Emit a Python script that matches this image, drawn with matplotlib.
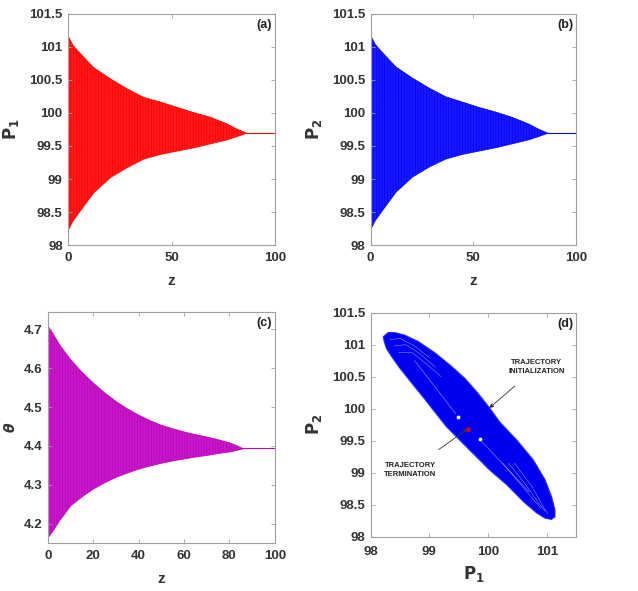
import numpy as np
import matplotlib
matplotlib.use("Agg")
from matplotlib import pyplot as plt

plt.rcParams["font.family"] = ["Liberation Sans", "DejaVu Sans"]
plt.rcParams["font.weight"] = "bold"
plt.rcParams["hatch.linewidth"] = 0.5

# envelope samples
z_env = [0, 2, 5.7, 12.1, 20.2, 28.3, 36.3, 44.4, 52.4, 60.5, 68.6, 76.6, 81.5, 86]
p1_upper = [101.15, 101.03, 100.90, 100.69, 100.52, 100.37, 100.24, 100.17, 100.09,
            100.01, 99.94, 99.84, 99.76, 99.70]
p1_lower = [98.25, 98.37, 98.53, 98.80, 99.03, 99.18, 99.31, 99.38, 99.43, 99.48,
            99.54, 99.60, 99.65, 99.70]
p2_upper = [101.16, 101.04, 100.91, 100.70, 100.53, 100.38, 100.25, 100.17, 100.09,
            100.02, 99.94, 99.84, 99.76, 99.70]
p2_lower = [98.26, 98.38, 98.54, 98.81, 99.04, 99.19, 99.31, 99.38, 99.43, 99.48,
            99.54, 99.60, 99.65, 99.70]

zc_env = [0, 2.5, 5, 10, 15, 20, 25, 30, 35, 40, 45, 50, 55, 60, 65, 70, 75, 80, 83, 86]
th_upper = [4.709, 4.686, 4.661, 4.622, 4.590, 4.562, 4.537, 4.515, 4.496, 4.480,
            4.466, 4.454, 4.445, 4.437, 4.430, 4.424, 4.417, 4.409, 4.402, 4.394]
th_lower = [4.166, 4.186, 4.209, 4.248, 4.271, 4.291, 4.307, 4.321, 4.332, 4.342,
            4.350, 4.357, 4.363, 4.368, 4.373, 4.377, 4.382, 4.386, 4.390, 4.394]
z_tail = [86, 100]
p_final = 99.70
th_final = 4.394

# phase portrait outline (P1, P2), read clockwise from the upper-left tip
outer_p1 = [98.215, 98.30, 98.41, 98.58, 98.81, 99.10, 99.38, 99.61, 99.82, 100.02,
            100.20, 100.49, 100.77, 100.97, 101.08, 101.14, 101.14, 101.08, 100.97,
            100.83, 100.60, 100.32, 100.03, 99.69, 99.29, 99.04, 98.93, 98.70, 98.50,
            98.36, 98.27, 98.23, 98.215]
outer_p2 = [101.125, 101.19, 101.19, 101.15, 101.05, 100.87, 100.66, 100.47, 100.25,
            100.02, 99.79, 99.51, 99.20, 98.89, 98.63, 98.42, 98.31, 98.27, 98.29,
            98.37, 98.55, 98.81, 99.04, 99.35, 99.72, 100.01, 100.14, 100.40, 100.63,
            100.81, 100.94, 101.05, 101.125]
# light streaks near the two tips
streaks_p1 = [
    [98.33, 98.5, 98.75, 99.0],
    [98.40, 98.6, 98.85, 99.1],
    [98.48, 98.7, 98.95, 99.2],
    [100.45, 100.75, 100.95, 101.02],
    [100.35, 100.65, 100.88, 100.97],
    [100.25, 100.55, 100.80, 100.90],
]
streaks_p2 = [
    [101.08, 101.10, 100.98, 100.80],
    [100.98, 101.00, 100.85, 100.65],
    [100.88, 100.88, 100.70, 100.50],
    [99.15, 98.78, 98.45, 98.36],
    [99.15, 98.80, 98.50, 98.40],
    [99.15, 98.82, 98.55, 98.45],
]
white_dots_p1 = [99.49, 99.86]
white_dots_p2 = [99.87, 99.53]
end_point = (99.66, 99.69)
init_point = (100.02, 100.01)

GRAY = "#a0a0a0"
TXT = "#333333"


def style(ax, xpad=5):
    for s in ax.spines.values():
        s.set_color(GRAY)
        s.set_linewidth(0.8)
    ax.tick_params(direction="in", top=True, right=True, color=GRAY,
                   labelsize=9.5, length=3, width=0.6)
    ax.tick_params(axis="x", pad=xpad)
    ax.tick_params(axis="y", pad=4)
    for lab in ax.get_xticklabels() + ax.get_yticklabels():
        lab.set_fontweight("bold")
        lab.set_color(TXT)


def decay_panel(ax, z, upper, lower, final, color, tag):
    ax.fill_between(z, lower, upper, color=color, linewidth=0.6, alpha=0.9)
    ax.fill_between(z, lower, upper, facecolor="none", linewidth=0, hatch="||||||",
                    edgecolor=color)
    ax.plot(z_tail, [final, final], color=color, linewidth=0.8)
    ax.set_xlim(0, 100)
    ax.set_xlabel("z", fontsize=11, fontweight="bold", color=TXT, labelpad=7)
    ax.text(0.985, 0.975, tag, transform=ax.transAxes, ha="right", va="top",
            fontsize=9, fontweight="bold", color="#222222")


P_TICKS = [98, 98.5, 99, 99.5, 100, 100.5, 101, 101.5]
P_LABELS = ["98", "98.5", "99", "99.5", "100", "100.5", "101", "101.5"]

fig = plt.figure(figsize=(6.38, 5.91), dpi=100)

ax_a = fig.add_axes([0.107, 0.585, 0.324, 0.392])
decay_panel(ax_a, z_env, p1_upper, p1_lower, p_final, "#ff0000", "(a)")
ax_a.set_ylabel(r"$\mathbf{P_1}$", fontsize=12, color=TXT, labelpad=6)
ax_a.set_ylim(98, 101.5)
ax_a.set_xticks([0, 50, 100])
ax_a.set_yticks(P_TICKS)
ax_a.set_yticklabels(P_LABELS)
style(ax_a)

ax_b = fig.add_axes([0.581, 0.585, 0.322, 0.392])
decay_panel(ax_b, z_env, p2_upper, p2_lower, p_final, "#0000ff", "(b)")
ax_b.set_ylabel(r"$\mathbf{P_2}$", fontsize=12, color=TXT, labelpad=6)
ax_b.set_ylim(98, 101.5)
ax_b.set_xticks([0, 50, 100])
ax_b.set_yticks(P_TICKS)
ax_b.set_yticklabels(P_LABELS)
style(ax_b)

ax_c = fig.add_axes([0.0748, 0.0807, 0.356, 0.392])
decay_panel(ax_c, zc_env, th_upper, th_lower, th_final, "#c000c0", "(c)")
ax_c.set_ylabel(r"$\theta$", fontsize=10, color=TXT, labelpad=4)
ax_c.set_ylim(4.15, 4.745)
ax_c.set_xticks([0, 20, 40, 60, 80, 100])
ax_c.set_yticks([4.2, 4.3, 4.4, 4.5, 4.6, 4.7])
style(ax_c)

ax_d = fig.add_axes([0.581, 0.0919, 0.322, 0.379])
ax_d.fill(outer_p1, outer_p2, facecolor="#0000f0", linewidth=0.8, edgecolor="#2a2aff",
          joinstyle="round")
for sx, sy in zip(streaks_p1, streaks_p2):
    ax_d.plot(sx, sy, color="white", linewidth=0.4, alpha=0.55)
ax_d.plot([98.75, 99.45], [100.75, 99.92], color="white", linewidth=0.5, alpha=0.5)
ax_d.plot([99.9, 100.7], [99.48, 98.7], color="white", linewidth=0.5, alpha=0.5)
ax_d.scatter(white_dots_p1, white_dots_p2, s=3, color="white", zorder=3)
ax_d.plot(*end_point, marker="o", markersize=2.5, color="#cc0033", zorder=4)
ax_d.annotate("TRAJECTORY\nINITIALIZATION", xy=init_point, xytext=(100.83, 100.65),
              fontsize=5.5, fontweight="bold", ha="center", va="center", color="#222222",
              linespacing=1.4,
              arrowprops=dict(arrowstyle="-|>", color="#333333", lw=0.6,
                              mutation_scale=6, shrinkA=9, shrinkB=0))
ax_d.annotate("TRAJECTORY\nTERMINATION", xy=end_point, xytext=(98.67, 99.04),
              fontsize=5.5, fontweight="bold", ha="center", va="center", color="#222222",
              linespacing=1.4,
              arrowprops=dict(arrowstyle="-|>", color="#333333", lw=0.6,
                              mutation_scale=6, shrinkA=12, shrinkB=0))
ax_d.set_xlim(98, 101.5)
ax_d.set_ylim(98, 101.5)
ax_d.set_xticks([98, 99, 100, 101])
ax_d.set_yticks(P_TICKS)
ax_d.set_yticklabels(P_LABELS)
ax_d.set_xlabel(r"$\mathbf{P_1}$", fontsize=12, color=TXT, labelpad=4)
ax_d.set_ylabel(r"$\mathbf{P_2}$", fontsize=12, color=TXT, labelpad=6)
ax_d.text(0.985, 0.975, "(d)", transform=ax_d.transAxes, ha="right", va="top",
          fontsize=9, fontweight="bold", color="#222222")
style(ax_d, xpad=7)

fig.savefig("out.png", dpi=100)
